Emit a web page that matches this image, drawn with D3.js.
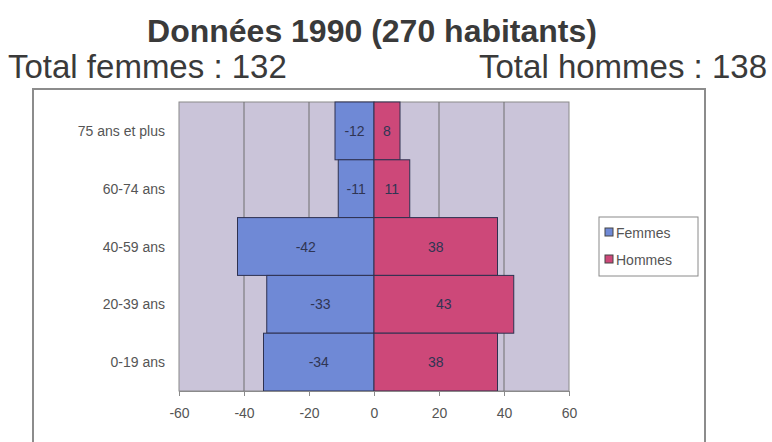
<!DOCTYPE html>
<html>
<head>
<meta charset="utf-8">
<script src="https://cdn.jsdelivr.net/npm/d3@7"></script>
<style>
  html, body { margin: 0; padding: 0; background: #fff; }
  svg { display: block; font-family: "Liberation Sans", Arial, sans-serif; }
</style>
</head>
<body>
<svg id="chart" width="772" height="442"></svg>
<script>
// Age groups, listed top to bottom
const categories = ["75 ans et plus", "60-74 ans", "40-59 ans", "20-39 ans", "0-19 ans"];
// Women are stored as negative counts so they extend left of zero
const femmes = [-12, -11, -42, -33, -34];
const hommes = [8, 11, 38, 43, 38];
const tickValues = [-60, -40, -20, 0, 20, 40, 60];
const seriesNames = ["Femmes", "Hommes"];
const seriesColors = ["#6f89d6", "#cd4879"];

const titleText = "Données 1990 (270 habitants)";
const totalF = d3.sum(femmes, d => -d);
const totalH = d3.sum(hommes);

const svg = d3.select("#chart");

// Heading lines
svg.append("text")
  .attr("x", 372).attr("y", 42)
  .attr("text-anchor", "middle")
  .attr("font-size", 32).attr("font-weight", "bold")
  .attr("fill", "#3a3a3a")
  .text(titleText);
svg.append("text")
  .attr("x", 8).attr("y", 78)
  .attr("font-size", 33)
  .attr("fill", "#3a3a3a")
  .text("Total femmes : " + totalF);
svg.append("text")
  .attr("x", 767).attr("y", 78)
  .attr("text-anchor", "end")
  .attr("font-size", 33)
  .attr("fill", "#3a3a3a")
  .text("Total hommes : " + totalH);

// Chart frame (open at the bottom edge of the page)
svg.append("path")
  .attr("d", "M33,445 V89 H705 V445")
  .attr("fill", "none")
  .attr("stroke", "#8c8c8c")
  .attr("stroke-width", 2);

const plot = { left: 179, right: 569, top: 102, bottom: 391 };

const x = d3.scaleLinear().domain([-60, 60]).range([plot.left, plot.right]);
const y = d3.scaleBand().domain(categories).range([plot.top, plot.bottom]).padding(0);

// Plot background
svg.append("rect")
  .attr("x", plot.left).attr("y", plot.top)
  .attr("width", plot.right - plot.left).attr("height", plot.bottom - plot.top)
  .attr("fill", "#cac4d9")
  .attr("stroke", "#8a8a8a").attr("stroke-width", 1);

// Vertical gridlines
svg.append("g")
  .selectAll("line")
  .data(tickValues.slice(1, -1))
  .join("line")
  .attr("x1", d => x(d)).attr("x2", d => x(d))
  .attr("y1", plot.top).attr("y2", plot.bottom)
  .attr("stroke", "#6e6e6e").attr("stroke-width", 1);

// Bars
const rows = categories.map((c, i) => ({ cat: c, f: femmes[i], h: hommes[i] }));
const barG = svg.append("g");
[["f", 0], ["h", 1]].forEach(([key, si]) => {
  barG.selectAll("rect." + key)
    .data(rows)
    .join("rect")
    .attr("class", key)
    .attr("x", d => x(Math.min(0, d[key])))
    .attr("width", d => Math.abs(x(d[key]) - x(0)))
    .attr("y", d => y(d.cat))
    .attr("height", y.bandwidth())
    .attr("fill", seriesColors[si])
    .attr("stroke", "#2e3150").attr("stroke-width", 1);
});

// Value labels centred in each bar
["f", "h"].forEach(key => {
  barG.selectAll("text." + key)
    .data(rows)
    .join("text")
    .attr("class", key)
    .attr("x", d => (x(d[key]) + x(0)) / 2)
    .attr("y", d => y(d.cat) + y.bandwidth() / 2 + 5)
    .attr("text-anchor", "middle")
    .attr("font-size", 14)
    .attr("fill", "#2f3553")
    .text(d => String(d[key]));
});

// Category axis labels
svg.append("g")
  .selectAll("text")
  .data(categories)
  .join("text")
  .attr("x", 165)
  .attr("y", d => y(d) + y.bandwidth() / 2 + 5)
  .attr("text-anchor", "end")
  .attr("font-size", 14)
  .attr("fill", "#555")
  .text(d => d);

// Value axis
const xAxis = svg.append("g")
  .attr("transform", `translate(0,${plot.bottom})`)
  .call(d3.axisBottom(x).tickValues(tickValues).tickSize(5).tickPadding(12).tickFormat(d => String(d)));
xAxis.select(".domain").attr("stroke", "#8a8a8a");
xAxis.selectAll(".tick line").attr("stroke", "#8a8a8a");
xAxis.selectAll(".tick text")
  .attr("font-size", 14)
  .attr("font-family", "\"Liberation Sans\", Arial, sans-serif")
  .attr("fill", "#555");

// Legend
const leg = svg.append("g").attr("transform", "translate(599,217)");
leg.append("rect")
  .attr("width", 99).attr("height", 59)
  .attr("fill", "#fff")
  .attr("stroke", "#8a8a8a").attr("stroke-width", 1);
seriesNames.forEach((name, i) => {
  const g = leg.append("g").attr("transform", `translate(6,${16 + i * 27})`);
  g.append("rect")
    .attr("x", 0).attr("y", -5)
    .attr("width", 8).attr("height", 8)
    .attr("fill", seriesColors[i])
    .attr("stroke", "#444").attr("stroke-width", 1);
  g.append("text")
    .attr("x", 11).attr("y", 5)
    .attr("font-size", 14)
    .attr("fill", "#555")
    .text(name);
});
</script>
</body>
</html>
